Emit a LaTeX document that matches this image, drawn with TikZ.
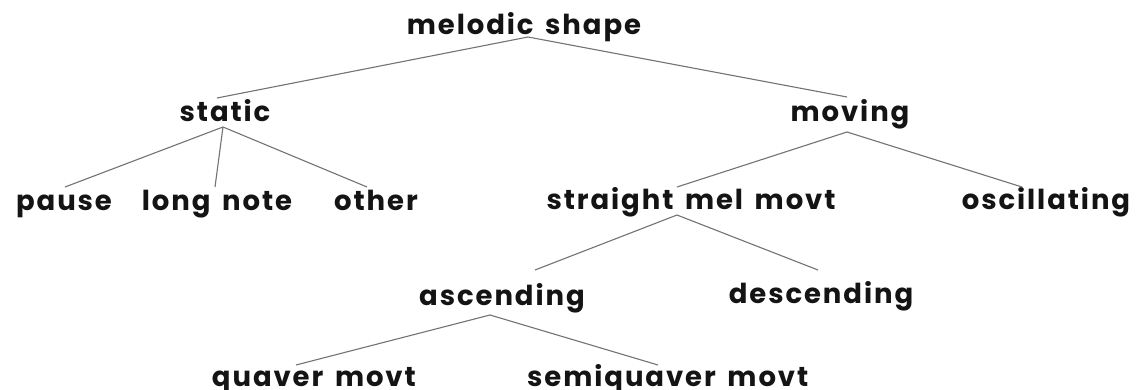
\documentclass[tikz,border=0pt]{standalone}
\usepackage{fontspec}
\setmainfont{Poppins}[LetterSpace=7,WordSpace=1.5]
\usetikzlibrary{calc}
\begin{document}
\begin{tikzpicture}[x=1pt,y=-1pt,
  lbl/.style={inner sep=0pt,font=\fontsize{27.5}{30}\selectfont\bfseries,text=black!92},
  link/.style={draw=black!55,line width=1.1pt}]
\useasboundingbox[fill=white] (0,0) rectangle (1138,390);
\node[lbl,anchor=base] (ms) at (524,35) {melodic shape};
\node[lbl,anchor=base] (st) at (225,122) {static};
\node[lbl,anchor=base] (mv) at (850,122) {moving};
\node[lbl,anchor=base] (pa) at (64,211) {pause};
\node[lbl,anchor=base] (ln) at (217,211) {long note};
\node[lbl,anchor=base] (ot) at (376,211) {other};
\node[lbl,anchor=base] (sm) at (691,210) {straight mel movt};
\node[lbl,anchor=base] (os) at (1046,210) {oscillating};
\node[lbl,anchor=base] (as) at (502,305) {ascending};
\node[lbl,anchor=base] (de) at (821,303) {descending};
\node[lbl,anchor=base east] (qu) at (416,386) {quaver movt};
\node[lbl,anchor=base west] (sq) at (527,386) {semiquaver movt};
\draw[link] ([shift={(4,2)}]ms.base) -- ([shift={(-8,-24)}]st.base);
\draw[link] ([shift={(4,2)}]ms.base) -- ([shift={(-3,-25)}]mv.base);
\draw[link] ([shift={(-2,5)}]st.base) -- ([shift={(1,-24)}]pa.base);
\draw[link] ([shift={(-2,5)}]st.base) -- ([shift={(-2,-24)}]ln.base);
\draw[link] ([shift={(-2,5)}]st.base) -- ([shift={(-9,-24)}]ot.base);
\draw[link] ([shift={(-3,10)}]mv.base) -- ([shift={(-14,-23)}]sm.base);
\draw[link] ([shift={(-3,10)}]mv.base) -- ([shift={(-24,-23)}]os.base);
\draw[link] ([shift={(-14,5)}]sm.base) -- ([shift={(33,-35)}]as.base);
\draw[link] ([shift={(-14,5)}]sm.base) -- ([shift={(-3,-33)}]de.base);
\draw[link] ([shift={(-12,10)}]as.base) -- ([shift={(-120,-21)}]qu.base east);
\draw[link] ([shift={(-12,10)}]as.base) -- ([shift={(131,-21)}]sq.base west);
\end{tikzpicture}
\end{document}
